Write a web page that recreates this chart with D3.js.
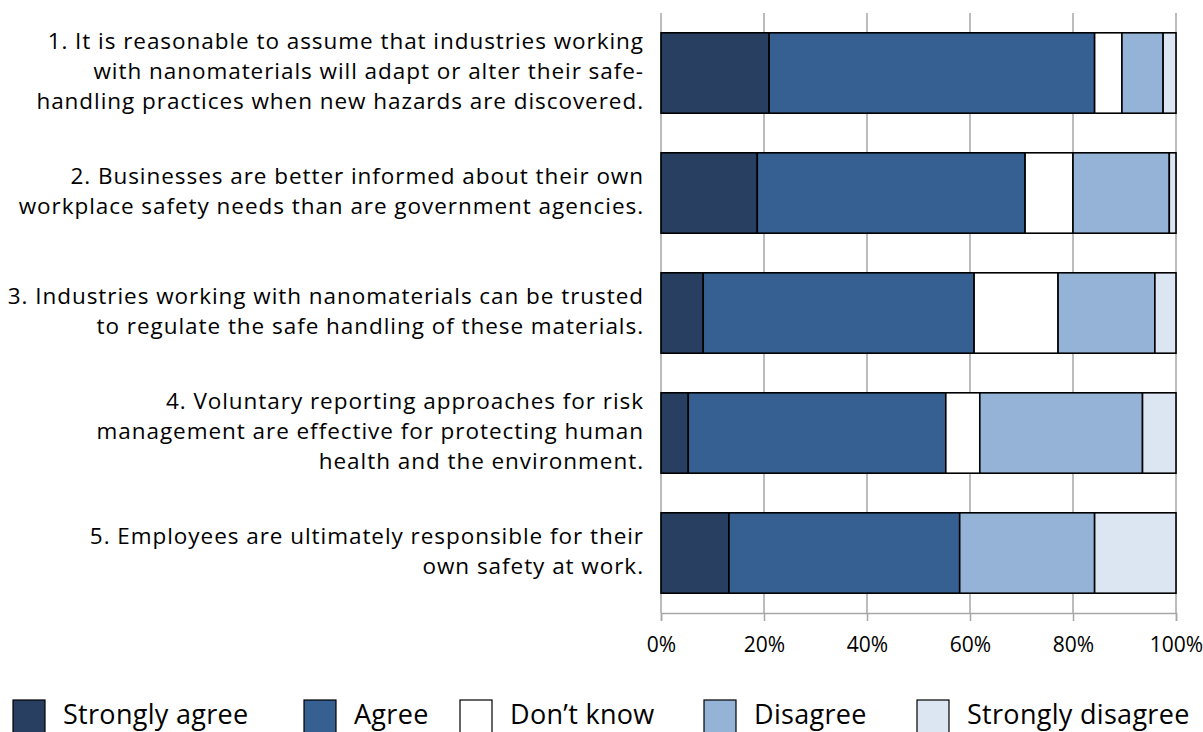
<!DOCTYPE html>
<html>
<head>
<meta charset="utf-8">
<script src="https://cdn.jsdelivr.net/npm/d3@7"></script>
<style>
  body { margin: 0; background: #fff; }
  svg { display: block; font-family: "Open Sans", sans-serif; }
</style>
</head>
<body>
<svg id="chart" width="1203" height="732"></svg>
<script>
// statements, one per bar (split into the lines shown)
var statements = [
    ['1. It is reasonable to assume that industries working', 'with nanomaterials will adapt or alter their safe-', 'handling practices when new hazards are discovered.'],
    ['2. Businesses are better informed about their own', 'workplace safety needs than are government agencies.'],
    ['3. Industries working with nanomaterials can be trusted', 'to regulate the safe handling of these materials.'],
    ['4. Voluntary reporting approaches for risk', 'management are effective for protecting human', 'health and the environment.'],
    ['5. Employees are ultimately responsible for their', 'own safety at work.']
];

var responses = ['Strongly agree', 'Agree', 'Don\u2019t know', 'Disagree', 'Strongly disagree'];

// percent of respondents, per statement
var stronglyAgree    = [21.0, 18.7,  8.2,  5.3, 13.2];
var agree            = [63.2, 52.0, 52.6, 50.0, 44.8];
var dontKnow         = [ 5.3,  9.3, 16.3,  6.6,  0.0];
var disagree         = [ 8.0, 18.7, 18.8, 31.6, 26.2];
var stronglyDisagree = [ 2.5,  1.3,  4.1,  6.5, 15.8];

var xTicks = [0, 20, 40, 60, 80, 100];

var colors = ['#283f61', '#376092', '#ffffff', '#95b3d7', '#dce6f2'];

var series = [stronglyAgree, agree, dontKnow, disagree, stronglyDisagree];
var rows = statements.map(function(s, i) {
    var row = {idx: i};
    responses.forEach(function(r, j) { row[r] = series[j][i]; });
    return row;
});

var margin = {top: 13, left: 661, right: 27, bottom: 119};
var width = 1203, height = 732;

var svg = d3.select('#chart');

var x = d3.scaleLinear()
    .domain([0, 100])
    .range([margin.left, width - margin.right]);

var y = d3.scaleBand()
    .domain(d3.range(statements.length))
    .range([margin.top, height - margin.bottom])
    .paddingInner(0.33)
    .paddingOuter(0.165);

// gridlines
svg.append('g')
    .selectAll('line')
    .data(xTicks)
    .join('line')
    .attr('x1', d => x(d))
    .attr('x2', d => x(d))
    .attr('y1', margin.top)
    .attr('y2', height - margin.bottom)
    .attr('stroke', '#a6a6a6')
    .attr('stroke-width', 1.5);

// x axis
var xAxis = svg.append('g')
    .attr('transform', `translate(0,${height - margin.bottom})`)
    .call(d3.axisBottom(x).tickValues(xTicks).tickSize(8).tickPadding(16).tickFormat(d => d + '%'));
xAxis.select('.domain').attr('stroke', '#a6a6a6').attr('stroke-width', 1.5);
xAxis.selectAll('.tick line').attr('stroke', '#a6a6a6').attr('stroke-width', 1.5);
xAxis.selectAll('.tick text')
    .attr('fill', '#000')
    .style('font-size', '21px')
    .style('font-family', '"Open Sans", sans-serif');

// stacked bars
var stacked = d3.stack().keys(responses)(rows);

svg.append('g')
    .selectAll('g')
    .data(stacked)
    .join('g')
    .attr('fill', (d, i) => colors[i])
    .selectAll('rect')
    .data(d => d.filter(p => p[1] - p[0] > 0))
    .join('rect')
    .attr('x', d => x(d[0]))
    .attr('width', d => x(d[1]) - x(d[0]))
    .attr('y', d => y(d.data.idx))
    .attr('height', y.bandwidth())
    .attr('stroke', '#000')
    .attr('stroke-width', 1.6);

// statement labels
var labels = svg.append('g')
    .selectAll('text')
    .data(statements)
    .join('text')
    .attr('text-anchor', 'end')
    .style('font-size', '22.5px')
    .style('letter-spacing', '0.95px')
    .attr('fill', '#000');

var lineH = 30;
labels.each(function(lines, i) {
    var cy = y(i) + y.bandwidth() / 2 - 2;
    var startY = cy - (lines.length - 1) * lineH / 2;
    d3.select(this).selectAll('tspan')
        .data(lines)
        .join('tspan')
        .attr('x', 644)
        .attr('y', (d, k) => startY + k * lineH)
        .attr('dy', '0.35em')
        .text(d => d);
});

// legend
var legendX = [13, 304, 460, 704, 917];
var legend = svg.append('g')
    .selectAll('g')
    .data(responses)
    .join('g')
    .attr('transform', (d, i) => `translate(${legendX[i]},700)`);

legend.append('rect')
    .attr('width', 32)
    .attr('height', 34)
    .attr('fill', (d, i) => colors[i])
    .attr('stroke', '#000')
    .attr('stroke-width', 1.2);

legend.append('text')
    .attr('x', 50)
    .attr('y', 24)
    .style('font-size', '27px')
    .style('letter-spacing', '0.3px')
    .text(d => d);
</script>
</body>
</html>
